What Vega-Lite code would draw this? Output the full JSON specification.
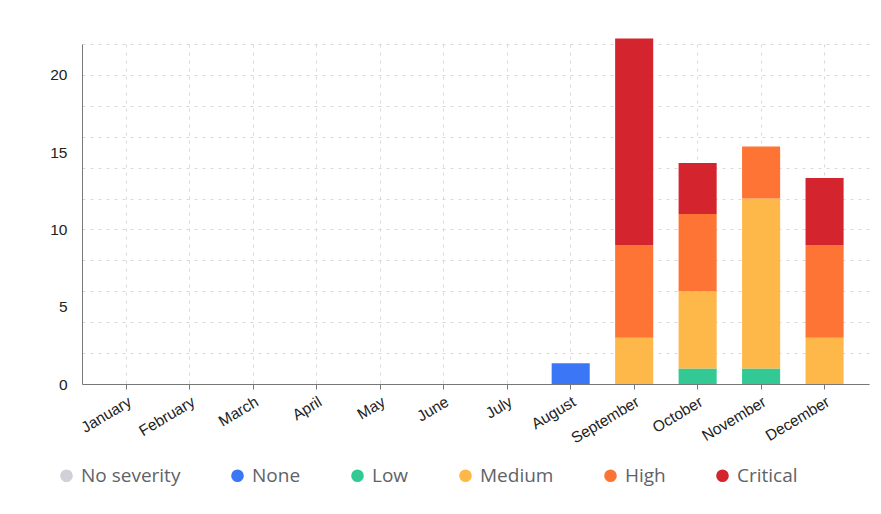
{
  "$schema": "https://vega.github.io/schema/vega-lite/v6.json",
  "autosize": {"type": "none"},
  "width": 787,
  "height": 340,
  "padding": {"left": 82, "top": 44, "right": 12, "bottom": 130},
  "background": "white",
  "config": {
    "view": {"stroke": null},
    "axis": {"labelFont": "Liberation Sans", "labelColor": "#222", "domainColor": "#777", "tickColor": "#777", "gridColor": "#d9d9d9", "gridDash": [3, 5]}
  },
  "data": {
    "values": [
      {"month": "August", "severity": "None", "level": 1, "count": 1.35},
      {"month": "September", "severity": "Medium", "level": 3, "count": 3},
      {"month": "September", "severity": "High", "level": 4, "count": 6},
      {"month": "September", "severity": "Critical", "level": 5, "count": 13.35},
      {"month": "October", "severity": "Low", "level": 2, "count": 1},
      {"month": "October", "severity": "Medium", "level": 3, "count": 5},
      {"month": "October", "severity": "High", "level": 4, "count": 5},
      {"month": "October", "severity": "Critical", "level": 5, "count": 3.3},
      {"month": "November", "severity": "Low", "level": 2, "count": 1},
      {"month": "November", "severity": "Medium", "level": 3, "count": 11},
      {"month": "November", "severity": "High", "level": 4, "count": 3.36},
      {"month": "December", "severity": "Medium", "level": 3, "count": 3},
      {"month": "December", "severity": "High", "level": 4, "count": 6},
      {"month": "December", "severity": "Critical", "level": 5, "count": 4.33}
    ]
  },
  "layer": [
    {
      "mark": {"type": "bar", "opacity": 0},
      "encoding": {
        "x": {"field": "month", "type": "nominal",
          "scale": {"domain": ["January","February","March","April","May","June","July","August","September","October","November","December"], "paddingInner": 0.4, "paddingOuter": 0.4},
          "axis": {"title": null, "grid": true, "labelAngle": -31, "labelAlign": "right", "labelBaseline": "top", "labelFontSize": 15.5, "labelPadding": 5, "tickSize": 5}},
        "y": {"field": "count", "type": "quantitative", "aggregate": "sum",
          "scale": {"domain": [0, 22], "nice": false},
          "axis": {"title": null, "orient": "left", "values": [0,2,4,6,8,10,12,14,16,18,20,22], "grid": true, "labels": false, "ticks": false, "domain": false}}
      }
    },
    {
      "mark": {"type": "bar", "clip": false},
      "encoding": {
        "x": {"field": "month", "type": "nominal"},
        "y": {"field": "count", "type": "quantitative", "stack": "zero",
          "axis": {"title": null, "orient": "left", "values": [0,5,10,15,20], "grid": false, "ticks": false, "tickSize": 0, "labelPadding": 15, "labelFontSize": 15.5}},
        "color": {"field": "severity", "type": "nominal",
          "scale": {"domain": ["No severity","None","Low","Medium","High","Critical"], "range": ["#cfd0d8","#3b76f6","#33c994","#fdb849","#fe7434","#d4252f"]},
          "legend": {"title": null, "orient": "none", "direction": "horizontal", "legendX": -25, "legendY": 422, "symbolType": "circle", "symbolSize": 160, "symbolOpacity": 1, "labelFont": "Open Sans", "labelFontSize": 19, "labelColor": "#5f6368", "labelOffset": 5, "columnPadding": 47, "symbolStrokeWidth": 0}},
        "order": {"field": "level", "type": "quantitative"}
      }
    }
  ],
  "resolve": {"axis": {"y": "independent"}}
}
